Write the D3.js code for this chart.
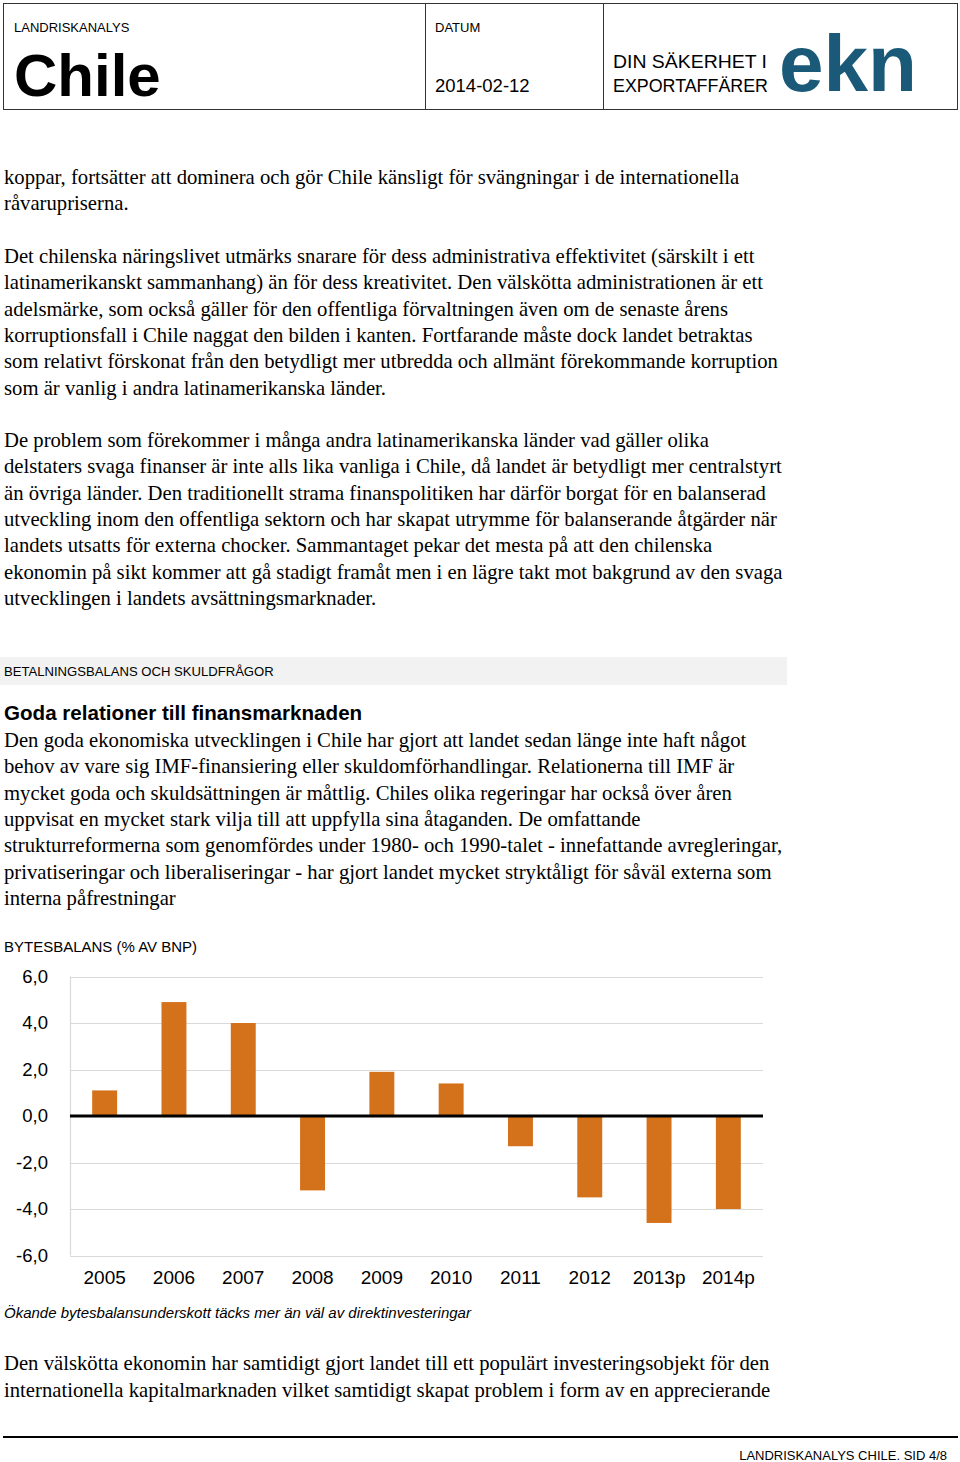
<!DOCTYPE html>
<html><head><meta charset="utf-8">
<script src="https://cdn.jsdelivr.net/npm/d3@7"></script>
<style>
body{margin:0;background:#fff;}
svg{display:block;}
</style></head>
<body>
<script>
const categories = ["2005","2006","2007","2008","2009","2010","2011","2012","2013p","2014p"];
const values = [1.1, 4.9, 4.0, -3.2, 1.9, 1.4, -1.3, -3.5, -4.6, -4.0];
const yTicks = [6, 4, 2, 0, -2, -4, -6];

const para1 = [
 "koppar, fortsätter att dominera och gör Chile känsligt för svängningar i de internationella",
 "råvarupriserna."
];
const para2 = [
 "Det chilenska näringslivet utmärks snarare för dess administrativa effektivitet (särskilt i ett",
 "latinamerikanskt sammanhang) än för dess kreativitet. Den välskötta administrationen är ett",
 "adelsmärke, som också gäller för den offentliga förvaltningen även om de senaste årens",
 "korruptionsfall i Chile naggat den bilden i kanten. Fortfarande måste dock landet betraktas",
 "som relativt förskonat från den betydligt mer utbredda och allmänt förekommande korruption",
 "som är vanlig i andra latinamerikanska länder."
];
const para3 = [
 "De problem som förekommer i många andra latinamerikanska länder vad gäller olika",
 "delstaters svaga finanser är inte alls lika vanliga i Chile, då landet är betydligt mer centralstyrt",
 "än övriga länder. Den traditionellt strama finanspolitiken har därför borgat för en balanserad",
 "utveckling inom den offentliga sektorn och har skapat utrymme för balanserande åtgärder när",
 "landets utsatts för externa chocker. Sammantaget pekar det mesta på att den chilenska",
 "ekonomin på sikt kommer att gå stadigt framåt men i en lägre takt mot bakgrund av den svaga",
 "utvecklingen i landets avsättningsmarknader."
];
const para4 = [
 "Den goda ekonomiska utvecklingen i Chile har gjort att landet sedan länge inte haft något",
 "behov av vare sig IMF-finansiering eller skuldomförhandlingar. Relationerna till IMF är",
 "mycket goda och skuldsättningen är måttlig. Chiles olika regeringar har också över åren",
 "uppvisat en mycket stark vilja till att uppfylla sina åtaganden. De omfattande",
 "strukturreformerna som genomfördes under 1980- och 1990-talet - innefattande avregleringar,",
 "privatiseringar och liberaliseringar - har gjort landet mycket stryktåligt för såväl externa som",
 "interna påfrestningar"
];
const para5 = [
 "Den välskötta ekonomin har samtidigt gjort landet till ett populärt investeringsobjekt för den",
 "internationella kapitalmarknaden vilket samtidigt skapat problem i form av en apprecierande"
];

(function(){
const W = 960, H = 1462;
const svg = d3.select("body").append("svg").attr("width", W).attr("height", H);
const sans = "'Liberation Sans', Arial, sans-serif";
const serif = "'Liberation Serif', 'Times New Roman', serif";

// Header box
svg.append("rect").attr("x",3.5).attr("y",3.5).attr("width",954).attr("height",106)
  .attr("fill","none").attr("stroke","#333").attr("stroke-width",1);
svg.append("line").attr("x1",425.5).attr("x2",425.5).attr("y1",3.5).attr("y2",109.5).attr("stroke","#333");
svg.append("line").attr("x1",603.5).attr("x2",603.5).attr("y1",3.5).attr("y2",109.5).attr("stroke","#333");
svg.append("text").attr("x",14).attr("y",32).attr("font-family",sans).attr("font-size",13).text("LANDRISKANALYS");
svg.append("text").attr("x",14).attr("y",96).attr("font-family",sans).attr("font-size",60).attr("font-weight","bold").text("Chile");
svg.append("text").attr("x",435).attr("y",32).attr("font-family",sans).attr("font-size",13).text("DATUM");
svg.append("text").attr("x",435).attr("y",92).attr("font-family",sans).attr("font-size",18.5).text("2014-02-12");
svg.append("text").attr("x",613).attr("y",68).attr("font-family",sans).attr("font-size",19).attr("textLength",154).attr("lengthAdjust","spacingAndGlyphs").text("DIN SÄKERHET I");
svg.append("text").attr("x",613).attr("y",92).attr("font-family",sans).attr("font-size",19).attr("textLength",155).attr("lengthAdjust","spacingAndGlyphs").text("EXPORTAFFÄRER");
svg.append("text").attr("x",779).attr("y",91).attr("font-family",sans).attr("font-size",80).attr("font-weight","bold")
  .attr("fill","#1a5a78").attr("textLength",138).attr("lengthAdjust","spacingAndGlyphs").text("ekn");

function para(lines, y0, lh, font, size, style) {
  const g = svg.append("g");
  lines.forEach((l,i)=>{
    g.append("text").attr("x",4).attr("y",y0+i*lh).attr("font-family",font).attr("font-size",size)
      .attr("font-style",style||"normal").attr("fill","#000").text(l);
  });
}
const LH = 26.3, FS = 20.7;
para(para1, 184, LH, serif, FS);
para(para2, 263, LH, serif, FS);
para(para3, 447, LH, serif, FS);

// section bar
svg.append("rect").attr("x",0).attr("y",657).attr("width",787).attr("height",28).attr("fill","#f2f2f2");
svg.append("text").attr("x",4).attr("y",676).attr("font-family",sans).attr("font-size",13.1).text("BETALNINGSBALANS OCH SKULDFRÅGOR");
svg.append("text").attr("x",4).attr("y",720).attr("font-family",sans).attr("font-size",20.6).attr("font-weight","bold").text("Goda relationer till finansmarknaden");
para(para4, 747, LH, serif, FS);

// chart title
svg.append("text").attr("x",4).attr("y",952).attr("font-family",sans).attr("font-size",15).text("BYTESBALANS (% AV BNP)");

// chart
const pL = 70, pR = 763, pT = 976.5, pB = 1255.5;
const x = d3.scaleBand().domain(categories).range([pL,pR]).paddingInner(0.64).paddingOuter(0.32);
const y = d3.scaleLinear().domain([-6,6]).range([pB, pT]);
const fmt = d => d3.format(".1f")(d).replace(".",",").replace("−","-");

const chart = svg.append("g");
chart.selectAll("line.grid").data(yTicks).join("line").attr("class","grid")
  .attr("x1",pL).attr("x2",pR).attr("y1",d=>Math.round(y(d))+0.5).attr("y2",d=>Math.round(y(d))+0.5)
  .attr("stroke","#d9d9d9").attr("stroke-width",1.2);
chart.append("line").attr("x1",pL+0.5).attr("x2",pL+0.5).attr("y1",pT).attr("y2",pB).attr("stroke","#d9d9d9").attr("stroke-width",1.2);

chart.selectAll("rect.bar").data(values).join("rect").attr("class","bar")
  .attr("x",(d,i)=>x(categories[i]))
  .attr("width",x.bandwidth())
  .attr("y",d=>y(Math.max(0,d)))
  .attr("height",d=>Math.abs(y(d)-y(0)))
  .attr("fill","#d4721b");

chart.append("line").attr("x1",pL).attr("x2",pR).attr("y1",y(0)).attr("y2",y(0)).attr("stroke","#000").attr("stroke-width",3);

const yAxis = d3.axisLeft(y).tickValues(yTicks).tickFormat(fmt).tickSize(0).tickPadding(22);
const ya = chart.append("g").attr("transform",`translate(${pL},0)`).call(yAxis);
ya.select(".domain").remove();
ya.selectAll("text").attr("font-family",sans).attr("font-size",18.5).attr("fill","#000");

const xAxis = d3.axisBottom(x).tickSize(0).tickPadding(15);
const xa = chart.append("g").attr("transform",`translate(0,${pB})`).call(xAxis);
xa.select(".domain").remove();
xa.selectAll("text").attr("font-family",sans).attr("font-size",19).attr("fill","#000");

svg.append("text").attr("x",4).attr("y",1318).attr("font-family",sans).attr("font-size",15).attr("font-style","italic").text("Ökande bytesbalansunderskott täcks mer än väl av direktinvesteringar");

para(para5, 1370, LH+0.7, serif, FS);

svg.append("line").attr("x1",3).attr("x2",958).attr("y1",1437).attr("y2",1437).attr("stroke","#000").attr("stroke-width",2);
svg.append("text").attr("x",947).attr("y",1460).attr("text-anchor","end").attr("font-family",sans).attr("font-size",13).text("LANDRISKANALYS CHILE. SID 4/8");
})();
</script>
</body></html>
